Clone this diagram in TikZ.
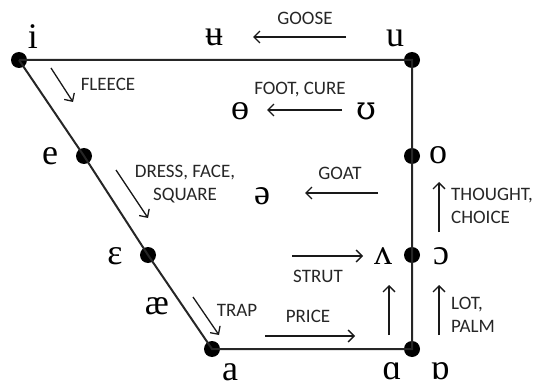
\documentclass[tikz,border=0pt]{standalone}
\usepackage{fontspec}
\setmainfont{Liberation Serif}
\newfontfamily\labfont{Carlito}
\newfontfamily\dvfont{DejaVu Serif}
\usetikzlibrary{arrows.meta}
\begin{document}
\begin{tikzpicture}[x=1pt,y=-1pt,
  frame/.style={line width=2pt,draw=black!85},
  vdot/.style={circle,fill=black,minimum size=16pt,inner sep=0pt},
  ipa/.style={font=\fontsize{36}{40}\selectfont,inner sep=0pt,text=black},
  lab/.style={font=\labfont\fontsize{19}{23.5}\selectfont,inner sep=0pt,text=black!85},
  arr/.style={line width=1.3pt,draw=black!90,-{Straight Barb[length=6pt,width=12pt,line width=1.3pt]}}]
\useasboundingbox (0,0) rectangle (533,385);
% corner and side points
\node[vdot] (i) at (19,60) {};
\node[vdot] (u) at (412,60) {};
\node[vdot] (e) at (84,156) {};
\node[vdot] (o) at (412,156) {};
\node[vdot] (eps) at (148,255) {};
\node[vdot] (mid) at (412,255) {};
\node[vdot] (a) at (212,349) {};
\node[vdot] (low) at (412,349) {};
\draw[frame] (i.center) -- (u.center) -- (o.center) -- (mid.center) -- (low.center) -- (a.center) -- (eps.center) -- (e.center) -- (i.center);
% IPA letters
\node[ipa] (ti) at (33,37) {i};
\node[ipa] (tbu) at (214,37) {ʉ};
\node[ipa] (tu) at (395,38) {u};
\node[ipa] (tth) at (240,111) {ɵ};
\node[ipa,font=\dvfont\fontsize{32}{36}\selectfont] (tup) at (366,111) {ʊ};
\node[ipa] (te) at (50,156) {e};
\node[ipa] (to) at (438,155) {o};
\node[ipa] (tsch) at (262,196) {ə};
\node[ipa] (teps) at (115,256) {ɛ};
\node[ipa] (tae) at (157,306) {æ};
\node[ipa] (twv) at (383,256) {ʌ};
\node[ipa] (toc) at (441,256) {ɔ};
\node[ipa] (ta) at (230,372) {a};
\node[ipa] (tal) at (392,371) {ɑ};
\node[ipa] (tob) at (440,371) {ɒ};
% labels
\node[lab] (lgoose) at (305,18) {GOOSE};
\node[lab] (lfleece) at (108,84) {FLEECE};
\node[lab] (lfoot) at (300,90) {FOOT, CURE};
\node[lab,align=center] (ldress) at (185,184) {DRESS, FACE,\\SQUARE};
\node[lab] (lgoat) at (340,173) {GOAT};
\node[lab,align=left,anchor=west] (lthought) at (451,206) {THOUGHT,\\CHOICE};
\node[lab] (lstrut) at (318,276) {STRUT};
\node[lab] (ltrap) at (237,310) {TRAP};
\node[lab] (lprice) at (308,316) {PRICE};
\node[lab,align=left,anchor=west] (llot) at (451,315) {LOT,\\PALM};
% arrow ends
\coordinate (g1) at (346,37); \coordinate (g2) at (253,37);
\coordinate (f1) at (51,68); \coordinate (f2) at (73,102);
\coordinate (fc1) at (342,110); \coordinate (fc2) at (267,110);
\coordinate (d1) at (116,170); \coordinate (d2) at (148,218);
\coordinate (go1) at (378,193); \coordinate (go2) at (305,193);
\coordinate (th1) at (439,232); \coordinate (th2) at (439,182);
\coordinate (s1) at (292,256); \coordinate (s2) at (363,256);
\coordinate (tr1) at (193,297); \coordinate (tr2) at (219,335);
\coordinate (p1) at (265,336); \coordinate (p2) at (355,336);
\coordinate (v1) at (389,335); \coordinate (v2) at (389,285);
\coordinate (l1) at (439,335); \coordinate (l2) at (439,285);
\draw[arr] (g1) -- (g2);
\draw[arr] (f1) -- (f2);
\draw[arr] (fc1) -- (fc2);
\draw[arr] (d1) -- (d2);
\draw[arr] (go1) -- (go2);
\draw[arr] (th1) -- (th2);
\draw[arr] (s1) -- (s2);
\draw[arr] (tr1) -- (tr2);
\draw[arr] (p1) -- (p2);
\draw[arr] (v1) -- (v2);
\draw[arr] (l1) -- (l2);
\end{tikzpicture}
\end{document}
